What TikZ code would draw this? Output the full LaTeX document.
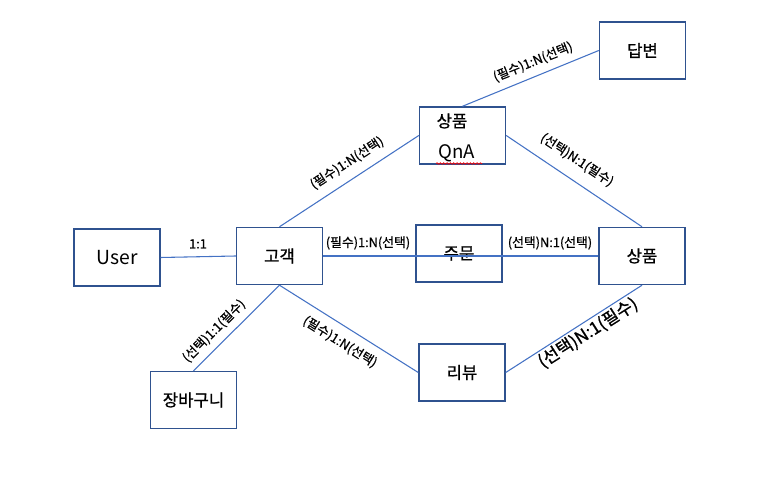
\documentclass[tikz,border=0pt]{standalone}
\usepackage{fontspec}
\setmainfont{Noto Sans CJK KR}
\newfontfamily\boxfont{Noto Sans CJK KR}[FakeBold=1.0]
\newfontfamily\labfont{Noto Sans CJK KR}[FakeBold=0.8]
\usetikzlibrary{decorations.pathmorphing}
\definecolor{boxc}{HTML}{2F528F}
\definecolor{linec}{HTML}{4472C4}
\begin{document}
\begin{tikzpicture}[x=0.75pt,y=-0.75pt,
  entity/.style={draw=boxc, line width=1.1pt, minimum width=64.5pt, minimum height=42.75pt, inner sep=0pt, font=\boxfont\fontsize{12.5}{14}\selectfont},
  rel/.style={draw=linec, line width=0.8pt},
  lab/.style={inner sep=0pt, font=\labfont\fontsize{9.6}{11}\selectfont},
  biglab/.style={inner sep=0pt, font=\boxfont\fontsize{13}{15}\selectfont}]
\useasboundingbox (0,0) rectangle (765,477);
% entities
\node[entity] (dap) at (642.5,50.5) {답변};
\node[entity] (qna) at (462.5,135.5) {};
\node[inner sep=0pt, font=\boxfont\fontsize{12.5}{14}\selectfont] (qnaA) at (452,121) {상품};
\node[inner sep=0pt, font=\rmfamily\fontsize{14}{16}\selectfont] (qnaB) at (457,153) {QnA};
\coordinate (sq1) at (436,163.5);
\coordinate (sq2) at (482,163.5);
\draw[red, line width=0.5pt, decorate, decoration={snake, amplitude=0.6pt, segment length=2.5pt}] (sq1) -- (sq2);
\node[entity, font=\rmfamily\fontsize{14.5}{16}\selectfont] (user) at (117,257.5) {User};
\node[entity] (gogaek) at (279.5,256) {고객};
\node[entity] (jumun) at (459,253.5) {\raisebox{-2.5pt}{주문}};
\node[entity] (sangpum) at (642,256) {상품};
\node[entity] (jang) at (193.5,400) {장바구니};
\node[entity] (review) at (462,372.5) {리뷰};
% connectors
\draw[rel] (dap.west) -- (qna.north);
\draw[rel] (qna.east) -- (sangpum.north);
\draw[rel] (gogaek.north) -- (qna.west);
\draw[rel] (user.east) -- (gogaek.west);
\draw[rel] (gogaek.east) -- (sangpum.west);
\draw[rel] (gogaek.south) -- (jang.north);
\draw[rel] (gogaek.south) -- (review.west);
\draw[rel] (review.east) -- (sangpum.south);
% labels
\node[lab, rotate=22] (l1) at (533,62) {(필수)1:N(선택)};
\node[lab, rotate=-33.5] (l2) at (577,160) {(선택)N:1(필수)};
\node[lab, rotate=33] (l3) at (347,163) {(필수)1:N(선택)};
\node[lab] (l4) at (198,244) {1:1};
\node[lab] (l5) at (368,243) {(필수)1:N(선택)};
\node[lab] (l6) at (550,243) {(선택)N:1(선택)};
\node[lab, rotate=45] (l7) at (214,331) {(선택)1:1(필수)};
\node[lab, rotate=-32] (l8) at (340,342) {(필수)1:N(선택)};
\node[biglab, rotate=32.4] (l9) at (588,333) {(선택)N:1(필수)};
\end{tikzpicture}
\end{document}
